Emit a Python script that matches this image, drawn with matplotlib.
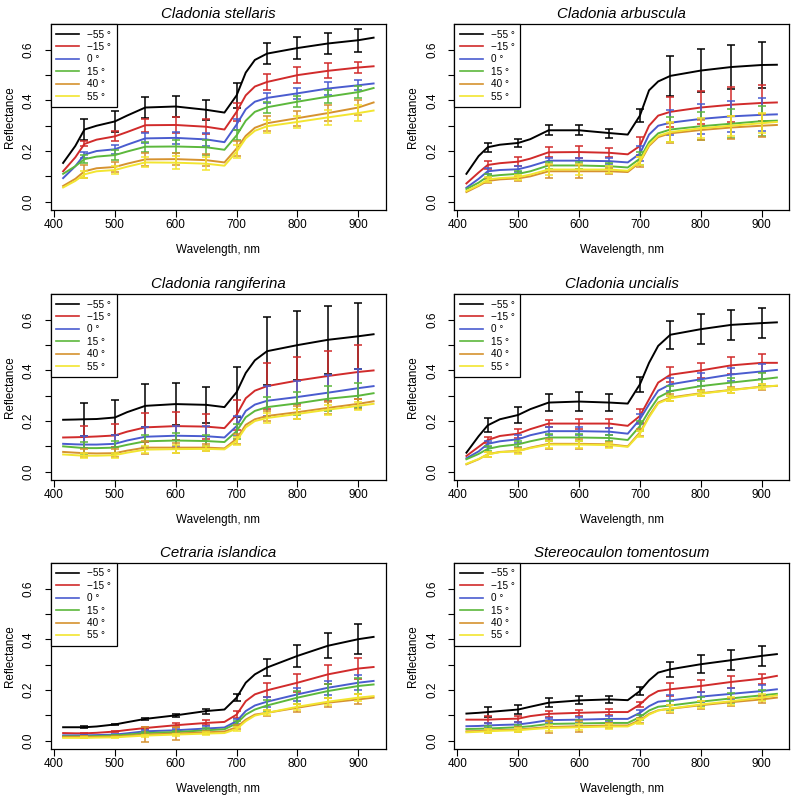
import matplotlib
matplotlib.use("Agg")
import matplotlib.pyplot as plt
from matplotlib.lines import Line2D

plt.rcParams['font.family'] = ['Liberation Sans', 'DejaVu Sans']

WL = [415, 435, 450, 470, 500, 520, 550, 600, 650, 680, 700, 715, 730, 750, 800, 850, 900, 925]
ERR_WL = [450, 500, 550, 600, 650, 700, 750, 800, 850, 900]
ANGLES = ["\u221255 \u00b0", "\u221215 \u00b0", "0 \u00b0", "15 \u00b0", "40 \u00b0", "55 \u00b0"]
COLORS = ["#000000", "#d12b2b", "#4a5ccf", "#5cb83c", "#d6922f", "#f2e530"]
TITLES = ["Cladonia stellaris", "Cladonia arbuscula", "Cladonia rangiferina",
          "Cladonia uncialis", "Cetraria islandica", "Stereocaulon tomentosum"]

stellaris_mean = [
    [0.153, 0.22, 0.285, 0.30, 0.317, 0.34, 0.372, 0.376, 0.363, 0.352, 0.42, 0.51, 0.56, 0.585, 0.607, 0.625, 0.638, 0.648],
    [0.12, 0.175, 0.228, 0.245, 0.258, 0.275, 0.302, 0.303, 0.296, 0.285, 0.355, 0.42, 0.455, 0.473, 0.50, 0.517, 0.53, 0.535],
    [0.093, 0.14, 0.186, 0.200, 0.207, 0.225, 0.25, 0.252, 0.246, 0.235, 0.305, 0.365, 0.395, 0.41, 0.428, 0.447, 0.46, 0.467],
    [0.11, 0.14, 0.168, 0.178, 0.184, 0.198, 0.217, 0.218, 0.215, 0.205, 0.262, 0.32, 0.355, 0.373, 0.395, 0.415, 0.433, 0.449],
    [0.062, 0.09, 0.12, 0.132, 0.137, 0.15, 0.167, 0.168, 0.164, 0.155, 0.21, 0.26, 0.292, 0.31, 0.33, 0.35, 0.372, 0.392],
    [0.056, 0.082, 0.108, 0.12, 0.125, 0.138, 0.155, 0.154, 0.15, 0.142, 0.197, 0.25, 0.28, 0.298, 0.315, 0.333, 0.35, 0.36],
]
stellaris_err = [
    [0.04, 0.04, 0.04, 0.04, 0.04, 0.048, 0.042, 0.042, 0.043, 0.045],
    [0.01, 0.02, 0.025, 0.03, 0.03, 0.035, 0.033, 0.033, 0.03, 0.022],
    [0.012, 0.017, 0.02, 0.025, 0.025, 0.02, 0.02, 0.022, 0.025, 0.02],
    [0.015, 0.02, 0.02, 0.025, 0.03, 0.02, 0.022, 0.022, 0.025, 0.025],
    [0.025, 0.02, 0.025, 0.025, 0.025, 0.03, 0.03, 0.03, 0.03, 0.03],
    [0.015, 0.015, 0.02, 0.025, 0.025, 0.025, 0.025, 0.025, 0.03, 0.03],
]

arbuscula_mean = [
    [0.11, 0.18, 0.215, 0.225, 0.232, 0.247, 0.282, 0.282, 0.271, 0.265, 0.34, 0.44, 0.475, 0.497, 0.518, 0.532, 0.54, 0.541],
    [0.072, 0.115, 0.145, 0.152, 0.158, 0.17, 0.195, 0.196, 0.193, 0.187, 0.22, 0.3, 0.34, 0.355, 0.372, 0.383, 0.39, 0.392],
    [0.055, 0.09, 0.12, 0.125, 0.128, 0.14, 0.162, 0.162, 0.16, 0.155, 0.19, 0.265, 0.3, 0.312, 0.327, 0.337, 0.343, 0.345],
    [0.05, 0.075, 0.1, 0.105, 0.11, 0.12, 0.143, 0.143, 0.14, 0.135, 0.17, 0.235, 0.27, 0.285, 0.298, 0.308, 0.318, 0.32],
    [0.038, 0.062, 0.082, 0.088, 0.092, 0.1, 0.12, 0.12, 0.12, 0.117, 0.155, 0.22, 0.255, 0.27, 0.283, 0.293, 0.3, 0.303],
    [0.042, 0.065, 0.088, 0.093, 0.097, 0.107, 0.127, 0.127, 0.127, 0.122, 0.16, 0.225, 0.26, 0.275, 0.29, 0.3, 0.31, 0.315],
]
arbuscula_err = [
    [0.017, 0.017, 0.02, 0.02, 0.018, 0.025, 0.08, 0.085, 0.088, 0.09],
    [0.015, 0.017, 0.02, 0.022, 0.018, 0.035, 0.06, 0.065, 0.07, 0.07],
    [0.012, 0.012, 0.012, 0.012, 0.012, 0.03, 0.05, 0.06, 0.062, 0.065],
    [0.01, 0.012, 0.012, 0.012, 0.012, 0.025, 0.05, 0.055, 0.058, 0.06],
    [0.01, 0.01, 0.025, 0.025, 0.012, 0.02, 0.04, 0.04, 0.045, 0.045],
    [0.01, 0.01, 0.02, 0.02, 0.012, 0.015, 0.04, 0.04, 0.04, 0.04],
]

rangiferina_mean = [
    [0.205, 0.206, 0.207, 0.208, 0.214, 0.235, 0.26, 0.267, 0.264, 0.255, 0.314, 0.39, 0.44, 0.476, 0.50, 0.521, 0.535, 0.543],
    [0.135, 0.136, 0.137, 0.139, 0.143, 0.158, 0.175, 0.18, 0.178, 0.172, 0.225, 0.29, 0.32, 0.338, 0.36, 0.378, 0.394, 0.40],
    [0.11, 0.108, 0.107, 0.107, 0.11, 0.123, 0.138, 0.142, 0.14, 0.135, 0.18, 0.24, 0.265, 0.28, 0.295, 0.312, 0.33, 0.338],
    [0.1, 0.096, 0.093, 0.093, 0.095, 0.106, 0.12, 0.123, 0.121, 0.117, 0.16, 0.215, 0.24, 0.255, 0.27, 0.288, 0.3, 0.31],
    [0.078, 0.075, 0.073, 0.072, 0.073, 0.083, 0.095, 0.095, 0.095, 0.092, 0.13, 0.185, 0.207, 0.22, 0.235, 0.252, 0.268, 0.278],
    [0.068, 0.065, 0.063, 0.063, 0.065, 0.075, 0.087, 0.089, 0.09, 0.088, 0.122, 0.175, 0.2, 0.212, 0.228, 0.245, 0.26, 0.268],
]
rangiferina_err = [
    [0.066, 0.07, 0.085, 0.082, 0.072, 0.1, 0.135, 0.136, 0.135, 0.13],
    [0.045, 0.045, 0.057, 0.055, 0.05, 0.06, 0.09, 0.094, 0.097, 0.106],
    [0.035, 0.035, 0.04, 0.04, 0.04, 0.04, 0.06, 0.065, 0.07, 0.075],
    [0.025, 0.025, 0.025, 0.03, 0.025, 0.03, 0.04, 0.045, 0.05, 0.05],
    [0.015, 0.015, 0.025, 0.02, 0.015, 0.02, 0.02, 0.025, 0.025, 0.02],
    [0.01, 0.01, 0.015, 0.015, 0.01, 0.015, 0.02, 0.02, 0.02, 0.015],
]

uncialis_mean = [
    [0.075, 0.14, 0.183, 0.207, 0.224, 0.247, 0.273, 0.277, 0.273, 0.269, 0.345, 0.43, 0.497, 0.541, 0.563, 0.58, 0.587, 0.59],
    [0.062, 0.098, 0.125, 0.141, 0.15, 0.168, 0.19, 0.19, 0.19, 0.181, 0.22, 0.286, 0.352, 0.383, 0.40, 0.42, 0.43, 0.43],
    [0.053, 0.08, 0.11, 0.12, 0.128, 0.144, 0.16, 0.16, 0.158, 0.15, 0.207, 0.266, 0.32, 0.345, 0.365, 0.384, 0.396, 0.402],
    [0.049, 0.07, 0.09, 0.1, 0.108, 0.12, 0.135, 0.135, 0.133, 0.125, 0.18, 0.24, 0.293, 0.318, 0.338, 0.352, 0.365, 0.372],
    [0.029, 0.049, 0.069, 0.078, 0.082, 0.095, 0.11, 0.11, 0.108, 0.1, 0.155, 0.22, 0.273, 0.293, 0.31, 0.323, 0.336, 0.339],
    [0.031, 0.05, 0.068, 0.077, 0.081, 0.093, 0.107, 0.107, 0.105, 0.098, 0.15, 0.215, 0.27, 0.29, 0.308, 0.322, 0.335, 0.34],
]
uncialis_err = [
    [0.028, 0.032, 0.035, 0.036, 0.033, 0.03, 0.055, 0.058, 0.06, 0.06],
    [0.01, 0.018, 0.015, 0.02, 0.018, 0.028, 0.03, 0.03, 0.035, 0.035],
    [0.012, 0.015, 0.015, 0.015, 0.015, 0.02, 0.025, 0.025, 0.025, 0.028],
    [0.01, 0.012, 0.015, 0.015, 0.012, 0.02, 0.02, 0.02, 0.02, 0.025],
    [0.01, 0.01, 0.02, 0.02, 0.01, 0.015, 0.012, 0.012, 0.012, 0.012],
    [0.01, 0.01, 0.015, 0.015, 0.01, 0.012, 0.01, 0.01, 0.01, 0.01],
]

islandica_mean = [
    [0.053, 0.053, 0.053, 0.056, 0.064, 0.073, 0.086, 0.1, 0.117, 0.123, 0.17, 0.229, 0.262, 0.289, 0.335, 0.375, 0.401, 0.41],
    [0.03, 0.029, 0.029, 0.031, 0.036, 0.042, 0.05, 0.061, 0.07, 0.074, 0.103, 0.156, 0.183, 0.199, 0.229, 0.262, 0.285, 0.291],
    [0.021, 0.021, 0.021, 0.022, 0.024, 0.029, 0.037, 0.041, 0.048, 0.052, 0.077, 0.117, 0.139, 0.154, 0.183, 0.209, 0.229, 0.236],
    [0.017, 0.017, 0.017, 0.018, 0.02, 0.024, 0.03, 0.034, 0.041, 0.045, 0.068, 0.103, 0.123, 0.139, 0.17, 0.196, 0.216, 0.222],
    [0.015, 0.015, 0.015, 0.015, 0.016, 0.019, 0.024, 0.028, 0.033, 0.036, 0.053, 0.083, 0.103, 0.11, 0.13, 0.15, 0.163, 0.17],
    [0.011, 0.011, 0.011, 0.012, 0.013, 0.016, 0.02, 0.024, 0.028, 0.03, 0.046, 0.077, 0.099, 0.11, 0.134, 0.154, 0.17, 0.176],
]
islandica_err = [
    [0.003, 0.003, 0.004, 0.006, 0.01, 0.015, 0.035, 0.042, 0.05, 0.06],
    [0.003, 0.003, 0.005, 0.008, 0.01, 0.015, 0.028, 0.035, 0.038, 0.042],
    [0.003, 0.003, 0.005, 0.006, 0.008, 0.01, 0.02, 0.025, 0.028, 0.03],
    [0.003, 0.003, 0.005, 0.006, 0.008, 0.01, 0.02, 0.025, 0.028, 0.03],
    [0.003, 0.003, 0.028, 0.025, 0.006, 0.008, 0.012, 0.015, 0.018, 0.02],
    [0.002, 0.002, 0.004, 0.004, 0.005, 0.008, 0.01, 0.012, 0.015, 0.015],
]

tomentosum_mean = [
    [0.107, 0.11, 0.113, 0.117, 0.123, 0.134, 0.15, 0.159, 0.163, 0.16, 0.196, 0.238, 0.269, 0.282, 0.302, 0.318, 0.335, 0.342],
    [0.083, 0.083, 0.083, 0.085, 0.087, 0.097, 0.106, 0.11, 0.113, 0.113, 0.143, 0.176, 0.196, 0.203, 0.216, 0.232, 0.245, 0.256],
    [0.057, 0.058, 0.06, 0.062, 0.064, 0.07, 0.081, 0.083, 0.086, 0.086, 0.11, 0.136, 0.154, 0.159, 0.174, 0.185, 0.196, 0.203],
    [0.046, 0.047, 0.048, 0.05, 0.053, 0.057, 0.066, 0.068, 0.07, 0.07, 0.093, 0.119, 0.134, 0.139, 0.154, 0.167, 0.179, 0.185],
    [0.037, 0.038, 0.04, 0.042, 0.044, 0.048, 0.054, 0.057, 0.06, 0.06, 0.081, 0.106, 0.12, 0.126, 0.14, 0.152, 0.163, 0.17],
    [0.033, 0.035, 0.037, 0.039, 0.041, 0.045, 0.05, 0.053, 0.056, 0.056, 0.077, 0.103, 0.119, 0.127, 0.143, 0.156, 0.17, 0.179],
]
tomentosum_err = [
    [0.02, 0.018, 0.017, 0.016, 0.013, 0.015, 0.03, 0.035, 0.04, 0.04],
    [0.013, 0.012, 0.012, 0.013, 0.013, 0.01, 0.025, 0.025, 0.022, 0.02],
    [0.01, 0.01, 0.01, 0.012, 0.01, 0.01, 0.02, 0.02, 0.022, 0.025],
    [0.01, 0.01, 0.012, 0.012, 0.01, 0.01, 0.018, 0.018, 0.02, 0.02],
    [0.008, 0.01, 0.022, 0.022, 0.01, 0.01, 0.015, 0.015, 0.015, 0.015],
    [0.008, 0.008, 0.012, 0.012, 0.008, 0.01, 0.015, 0.015, 0.015, 0.015],
]

PANELS = [
    (stellaris_mean, stellaris_err),
    (arbuscula_mean, arbuscula_err),
    (rangiferina_mean, rangiferina_err),
    (uncialis_mean, uncialis_err),
    (islandica_mean, islandica_err),
    (tomentosum_mean, tomentosum_err),
]

W, H = 793, 798
fig = plt.figure(figsize=(W / 100, H / 100), dpi=100)

col_left = [50.7, 454.0]
col_w = 335.3
row_top = [24.0, 294.0, 563.0]
row_h = 185.5

err_idx = [WL.index(w) for w in ERR_WL]

for p, (means, errs) in enumerate(PANELS):
    r, c = divmod(p, 2)
    ax = fig.add_axes([col_left[c] / W, 1 - (row_top[r] + row_h) / H, col_w / W, row_h / H])
    for s in range(6):
        ax.plot(WL, means[s], color=COLORS[s], lw=1.4, zorder=2 + s,
                solid_joinstyle='round')
        ax.errorbar(ERR_WL, [means[s][i] for i in err_idx], yerr=errs[s],
                    fmt='none', ecolor=COLORS[s], elinewidth=1.1, capsize=2.6,
                    capthick=1.1, zorder=2 + s)
    ax.set_xlim(394.6, 945.4)
    ax.set_ylim(-0.031, 0.702)
    ax.set_xticks([400, 500, 600, 700, 800, 900])
    ax.set_yticks([0.0, 0.1, 0.2, 0.3, 0.4, 0.5, 0.6])
    ax.set_yticklabels(["0.0", "", "0.2", "", "0.4", "", "0.6"], rotation=90, va='center')
    ax.tick_params(axis='both', direction='out', width=0.8, labelsize=8.5,
                   color='black')
    ax.tick_params(axis='x', pad=2, length=5)
    ax.tick_params(axis='y', pad=7, length=4.4)
    for sp in ax.spines.values():
        sp.set_linewidth(0.9)
    ax.set_title(TITLES[p], fontsize=10.8, style='italic', pad=4.5)
    ax.set_xlabel("Wavelength, nm", fontsize=8.4)
    ax.set_ylabel("Reflectance", fontsize=8.4)
    ax.xaxis.set_label_coords(0.5, -0.185)
    ax.yaxis.set_label_coords(-0.104, 0.5)

    handles = [Line2D([], [], color=COLORS[s], lw=1.2) for s in range(6)]
    leg = ax.legend(handles, ANGLES, loc='upper left', bbox_to_anchor=(0, 1),
                    borderaxespad=0, fontsize=7.2, frameon=True, fancybox=False,
                    edgecolor='black', framealpha=1, handlelength=2.3,
                    handletextpad=0.8, labelspacing=0.24, borderpad=0.55)
    leg.get_frame().set_linewidth(0.9)
    leg.set_zorder(20)

fig.savefig("out.png", dpi=100)
